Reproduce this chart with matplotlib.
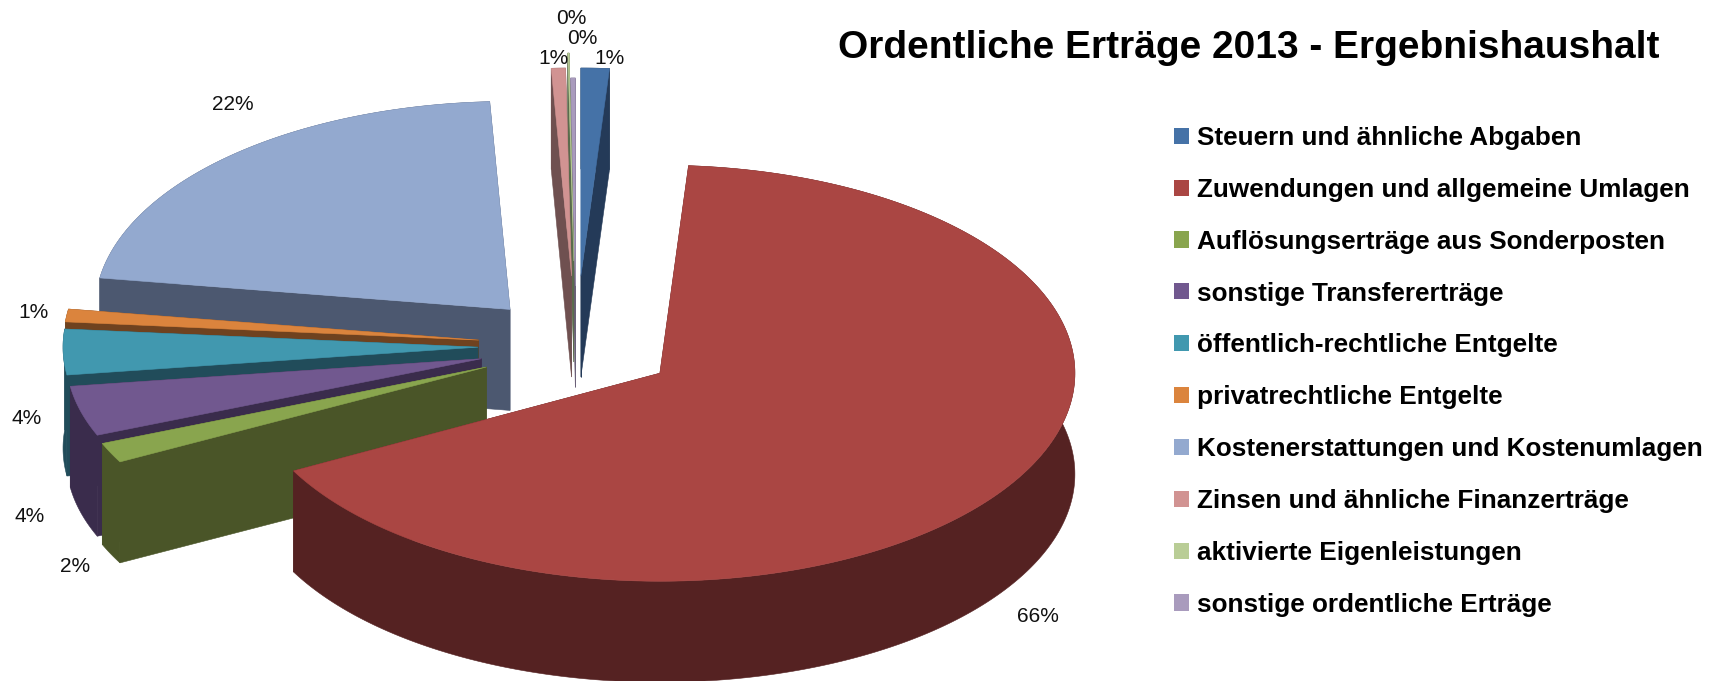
import numpy as np
import matplotlib
matplotlib.use("Agg")
import matplotlib.pyplot as plt
from matplotlib.patches import Patch

plt.rcParams['font.family'] = ['Liberation Sans', 'DejaVu Sans']

categories = ["Steuern und ähnliche Abgaben", "Zuwendungen und allgemeine Umlagen",
              "Auflösungserträge aus Sonderposten", "sonstige Transfererträge",
              "öffentlich-rechtliche Entgelte", "privatrechtliche Entgelte",
              "Kostenerstattungen und Kostenumlagen", "Zinsen und ähnliche Finanzerträge",
              "aktivierte Eigenleistungen", "sonstige ordentliche Erträge"]
shares = [1.1, 66.12, 1.6, 4.0, 3.6, 1.0, 21.8, 0.55, 0.05, 0.18]

# styling / layout, kept apart from the values
explode = [140, 100, 99, 98, 98, 98, 98.5, 140, 170, 120]
radius_y = [208, 208, 202, 202, 204, 205, 208, 208, 208, 208]
top_colors = ["#4572A7", "#AA4643", "#89A54E", "#71588F", "#4198AF",
              "#DB843D", "#93A9CF", "#D19392", "#B9CD96", "#A99BBD"]
wall_colors = ["#243A58", "#552222", "#4A5528", "#3A2C4C", "#214C5A",
               "#6F421F", "#4C5870", "#6F5050", "#5A6B4C", "#6A6078"]
draw_order = [6, 9, 8, 7, 0, 5, 4, 3, 2, 1]
label_xy = [(609, 59), (1038, 617), (75, 566), (30, 516), (27, 419),
            (34, 312), (233, 105), (553, 59), (582, 39), (571, 18)]
CX, CY, RX, DEPTH = 576, 346, 415, 101
W, H = 1723, 681

fig = plt.figure(figsize=(W / 100, H / 100), dpi=100, facecolor="white")
ax = fig.add_axes([0, 0, 1, 1])
ax.set_xlim(0, W)
ax.set_ylim(H, 0)
ax.axis("off")

total = sum(shares)
edges = np.concatenate([[0], np.cumsum(shares)]) / total * 2 * np.pi


def poly(pts, color, z):
    pts = np.asarray(pts)
    ax.fill(pts[:, 0], pts[:, 1], facecolor=color, edgecolor=color, linewidth=0.4, zorder=z)


for z, i in enumerate(draw_order):
    a0, a1 = edges[i], edges[i + 1]
    mid = (a0 + a1) / 2
    ax0 = CX + explode[i] * np.sin(mid)
    ay0 = CY - explode[i] * np.cos(mid) * 0.5
    th = np.linspace(a0, a1, max(3, int((a1 - a0) * 90)))
    rim = np.column_stack([ax0 + RX * np.sin(th), ay0 - radius_y[i] * np.cos(th)])
    apex = np.array([ax0, ay0])
    down = np.array([0, DEPTH])
    base = z * 10
    # flat cut faces
    poly([apex, rim[0], rim[0] + down, apex + down], wall_colors[i], base)
    poly([apex, rim[-1], rim[-1] + down, apex + down], wall_colors[i], base)
    # curved outer wall
    poly(np.vstack([rim, (rim + down)[::-1]]), wall_colors[i], base + 1)
    # top face
    poly(np.vstack([[apex], rim]), top_colors[i], base + 2)
    # data label
    ax.text(*label_xy[i], f"{shares[i] / total * 100:.0f}%", fontsize=15, color="#111111",
            ha="center", va="center", zorder=500)

ax.text(1249, 48, "Ordentliche Erträge 2013 - Ergebnishaushalt", fontsize=28, fontweight="bold",
        ha="center", va="center", color="black", zorder=500)

handles = [Patch(facecolor=c, edgecolor="none") for c in top_colors]
leg = ax.legend(handles, categories, loc="upper left", bbox_to_anchor=(1174 / W, 1 - 126 / H),
                frameon=False, prop={"size": 18.8, "weight": "bold"}, handlelength=0.575,
                handleheight=0.575, handletextpad=0.31, labelspacing=1.067, borderaxespad=0,
                borderpad=0)
leg.set_zorder(500)

fig.savefig("out.png", dpi=100, facecolor="white")
